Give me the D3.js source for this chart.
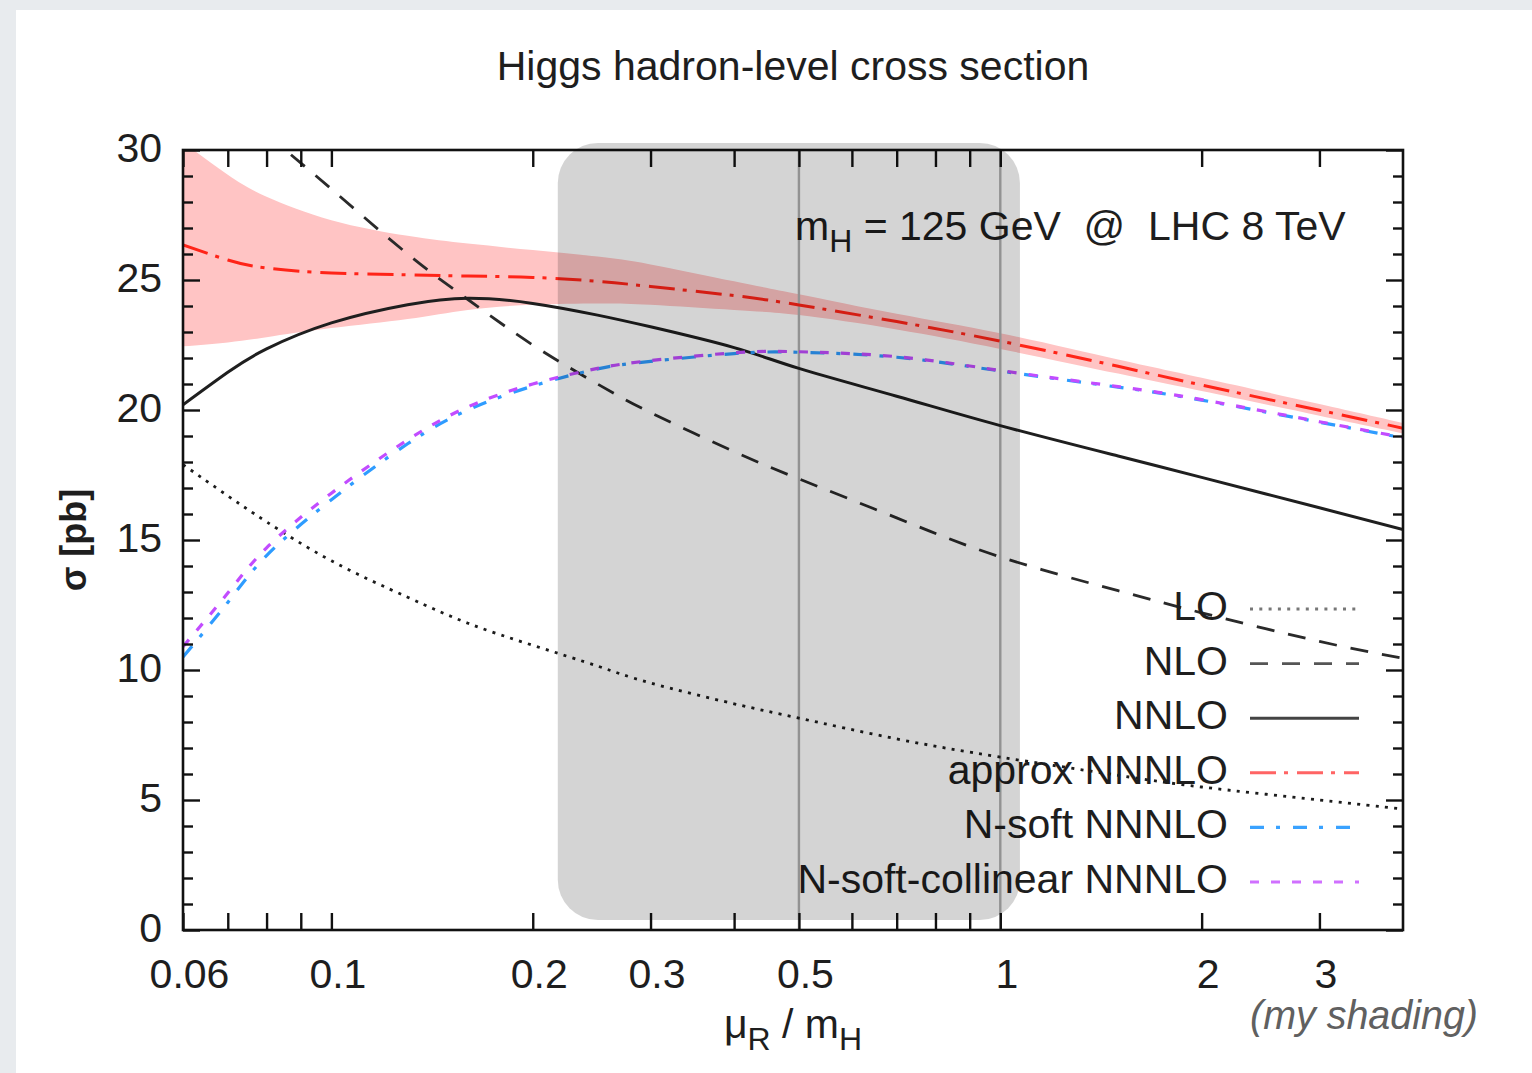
<!DOCTYPE html>
<html>
<head>
<meta charset="utf-8">
<script src="https://cdn.jsdelivr.net/npm/d3@7"></script>
<style>
  html, body { margin: 0; padding: 0; background: #e8ebee; }
  svg { display: block; }
  text { font-family: "Liberation Sans", Arial, Helvetica, sans-serif; }
</style>
</head>
<body>
<svg id="chart" width="1532" height="1073"></svg>
<script>
// ---- data ----------------------------------------------------------------
// renormalisation scale mu_R / m_H at which the cross sections are sampled
const muR = [0.06, 0.07, 0.08, 0.1, 0.13, 0.16, 0.2, 0.25, 0.3, 0.4, 0.5, 0.7, 1, 1.5, 2, 3, 4];

// sigma [pb] for each perturbative order
const sigmaLO    = [17.9, 16.7, 15.7, 14.2, 12.8, 11.8, 10.95, 10.15, 9.5, 8.7, 8.15, 7.35, 6.65, 5.95, 5.5, 5.0, 4.65];
const sigmaNLO   = [null, null, 30.6, 28.5, 26.0, 24.25, 22.5, 21.0, 19.9, 18.4, 17.35, 15.85, 14.35, 13.05, 12.2, 11.1, 10.45];
const sigmaNNLO  = [20.2, 21.45, 22.35, 23.35, 24.05, 24.3, 24.1, 23.65, 23.2, 22.4, 21.6, 20.53, 19.4, 18.23, 17.41, 16.24, 15.4];
const sigmaN3LO  = [26.35, 25.77, 25.46, 25.27, 25.2, 25.15, 25.1, 24.95, 24.75, 24.4, 24.04, 23.4, 22.65, 21.68, 20.96, 19.99, 19.3];
const bandHigh   = [30.3, 29.05, 28.2, 27.3, 26.7, 26.4, 26.15, 25.9, 25.6, 24.95, 24.45, 23.7, 22.95, 21.94, 21.24, 20.23, 19.5];
const bandLow    = [22.45, 22.6, 22.8, 23.15, 23.5, 23.85, 24.05, 24.1, 24.05, 23.85, 23.65, 23.1, 22.35, 21.4, 20.73, 19.78, 19.1];
const sigmaNsoft = [10.5, 12.6, 14.4, 16.55, 18.7, 20.0, 20.92, 21.58, 21.87, 22.17, 22.22, 22.03, 21.5, 20.88, 20.38, 19.53, 18.93];
const sigmaNsc   = [10.9, 12.96, 14.7, 16.8, 18.85, 20.12, 21.0, 21.6, 21.9, 22.2, 22.24, 22.05, 21.52, 20.9, 20.4, 19.55, 18.95];

// axis ticks
const xTicks = [0.06, 0.07, 0.08, 0.09, 0.1, 0.2, 0.3, 0.4, 0.5, 0.6, 0.7, 0.8, 0.9, 1, 2, 3];
const xTickLabels = {0.06: "0.06", 0.1: "0.1", 0.2: "0.2", 0.3: "0.3", 0.5: "0.5", 1: "1", 2: "2", 3: "3"};
const yMajor = [0, 5, 10, 15, 20, 25, 30];
const yMinor = d3.range(0, 31);

// reference scale choices and the highlighted scale window
const refLines = [0.5, 1];
const shadeX = [0.218, 1.07];

// legend entries, top to bottom
const legendLabels = ["LO", "NLO", "NNLO", "approx NNNLO", "N-soft NNNLO", "N-soft-collinear NNNLO"];

// ---- layout ----------------------------------------------------------------
const W = 1532, H = 1073;
const plot = {left: 183, right: 1403, top: 150, bottom: 930};
const FONT = 41;

const svg = d3.select("#chart");

// page backdrop and white card
svg.append("rect").attr("width", W).attr("height", H).attr("fill", "#e8ebee");
svg.append("rect").attr("x", 16).attr("y", 10).attr("width", W - 16).attr("height", H - 10).attr("fill", "#ffffff");

const x = d3.scaleLog().domain([0.06, 4]).range([plot.left, plot.right]);
const y = d3.scaleLinear().domain([0, 30]).range([plot.bottom, plot.top]);

svg.append("clipPath").attr("id", "plotClip")
  .append("rect")
  .attr("x", plot.left).attr("y", plot.top)
  .attr("width", plot.right - plot.left).attr("height", plot.bottom - plot.top);

const layer = svg.append("g").attr("clip-path", "url(#plotClip)");

// scale-uncertainty band of the approximate NNNLO result
const bandData = muR.map((m, i) => ({m, lo: bandLow[i], hi: bandHigh[i]}));
layer.append("path")
  .datum(bandData)
  .attr("fill", "#ffc4c4")
  .attr("d", d3.area()
    .x(d => x(d.m)).y0(d => y(d.lo)).y1(d => y(d.hi))
    .curve(d3.curveNatural));

// reference scale lines
layer.selectAll("line.ref")
  .data(refLines)
  .join("line")
  .attr("class", "ref")
  .attr("x1", d => x(d)).attr("x2", d => x(d))
  .attr("y1", plot.top).attr("y2", plot.bottom)
  .attr("stroke", "#b0b0b0").attr("stroke-width", 2.4);

const series = [
  {name: "LO",   values: sigmaLO,    color: "#1c1c1c", width: 2.8, dash: "3,6.3",         legendColor: "#777"},
  {name: "NLO",  values: sigmaNLO,   color: "#2a2a2a", width: 2.8, dash: "18,14",         legendColor: "#555"},
  {name: "NNLO", values: sigmaNNLO,  color: "#1f1f1f", width: 3,   dash: null,            legendColor: "#444"},
  {name: "approx NNNLO", values: sigmaN3LO, color: "#ff2418", width: 3, dash: "26,8,4,9", legendColor: "#ff6464"},
  {name: "N-soft NNNLO", values: sigmaNsoft, color: "#2e9cff", width: 3.2, dash: "14,12,4,13", legendColor: "#3aa2ff"},
  {name: "N-soft-collinear NNNLO", values: sigmaNsc, color: "#c24cff", width: 3.2, dash: "9,12", legendColor: "#d070ff"}
];

const line = d3.line()
  .defined(d => d.v !== null)
  .x(d => x(d.m)).y(d => y(d.v))
  .curve(d3.curveNatural);

series.forEach(s => {
  layer.append("path")
    .datum(muR.map((m, i) => ({m, v: s.values[i]})))
    .attr("fill", "none")
    .attr("stroke", s.color)
    .attr("stroke-width", s.width)
    .attr("stroke-dasharray", s.dash)
    .attr("d", line);
});

// ---- axes ----------------------------------------------------------------
const tickStyle = g => {
  g.select(".domain").remove();
  g.selectAll(".tick line").attr("stroke", "#111").attr("stroke-width", 2.4);
  g.selectAll("text").attr("fill", "#1e1e1e").attr("font-size", FONT)
    .attr("font-family", "'Liberation Sans', Arial, sans-serif");
};

svg.append("g")
  .attr("transform", `translate(0,${plot.bottom})`)
  .call(d3.axisBottom(x).tickValues(xTicks).tickSizeInner(-17).tickSizeOuter(0).tickPadding(29)
    .tickFormat(d => xTickLabels[d] || ""))
  .call(tickStyle)
  .call(g => g.selectAll("text").attr("dx", 6));

svg.append("g")
  .attr("transform", `translate(0,${plot.top})`)
  .call(d3.axisTop(x).tickValues(xTicks).tickSizeInner(-17).tickSizeOuter(0).tickFormat(() => ""))
  .call(tickStyle);

svg.append("g")
  .attr("transform", `translate(${plot.left},0)`)
  .call(d3.axisLeft(y).tickValues(yMinor.filter(v => v % 5)).tickSizeInner(-10).tickSizeOuter(0).tickFormat(() => ""))
  .call(tickStyle);
svg.append("g")
  .attr("transform", `translate(${plot.left},0)`)
  .call(d3.axisLeft(y).tickValues(yMajor).tickSizeInner(-17).tickSizeOuter(0).tickPadding(21)
    .tickFormat(d3.format("d")))
  .call(tickStyle)
  .call(g => g.selectAll("text").attr("dy", "0.28em"));

svg.append("g")
  .attr("transform", `translate(${plot.right},0)`)
  .call(d3.axisRight(y).tickValues(yMinor.filter(v => v % 5)).tickSizeInner(-10).tickSizeOuter(0).tickFormat(() => ""))
  .call(tickStyle);
svg.append("g")
  .attr("transform", `translate(${plot.right},0)`)
  .call(d3.axisRight(y).tickValues(yMajor).tickSizeInner(-17).tickSizeOuter(0).tickFormat(() => ""))
  .call(tickStyle);

// frame
svg.append("rect")
  .attr("x", plot.left).attr("y", plot.top)
  .attr("width", plot.right - plot.left).attr("height", plot.bottom - plot.top)
  .attr("fill", "none").attr("stroke", "#111").attr("stroke-width", 2.6);

// ---- titles and labels ----------------------------------------------------
const cx = (plot.left + plot.right) / 2;

svg.append("text")
  .attr("x", cx).attr("y", 80)
  .attr("text-anchor", "middle").attr("font-size", FONT).attr("fill", "#1e1e1e")
  .text("Higgs hadron-level cross section");

svg.append("text")
  .attr("transform", `translate(86,${(plot.top + plot.bottom) / 2}) rotate(-90)`)
  .attr("text-anchor", "middle").attr("font-size", 36).attr("font-weight", "bold").attr("fill", "#1e1e1e")
  .text("σ [pb]");

const xl = svg.append("text")
  .attr("x", cx).attr("y", 1038)
  .attr("text-anchor", "middle").attr("font-size", FONT).attr("fill", "#1e1e1e");
xl.append("tspan").text("μ");
xl.append("tspan").attr("font-size", 32).attr("dy", 12).text("R");
xl.append("tspan").attr("dy", -12).text(" / m");
xl.append("tspan").attr("font-size", 32).attr("dy", 12).text("H");

const note = svg.append("text")
  .attr("x", 795).attr("y", 240)
  .attr("font-size", FONT).attr("fill", "#1e1e1e")
  .attr("xml:space", "preserve");
note.append("tspan").text("m");
note.append("tspan").attr("font-size", 32).attr("dy", 12).text("H");
note.append("tspan").attr("dy", -12).text(" = 125 GeV  @  LHC 8 TeV");

// ---- legend ----------------------------------------------------------------
const legend = svg.append("g");
const legendTextX = 1228, legendY0 = 620, legendStep = 54.6;
series.forEach((s, i) => {
  const by = legendY0 + i * legendStep;
  legend.append("text")
    .attr("x", legendTextX).attr("y", by)
    .attr("text-anchor", "end").attr("font-size", FONT).attr("fill", "#1e1e1e")
    .text(legendLabels[i]);
  legend.append("line")
    .attr("x1", 1250).attr("x2", 1359)
    .attr("y1", by - 11).attr("y2", by - 11)
    .attr("stroke", s.legendColor).attr("stroke-width", s.width)
    .attr("stroke-dasharray", s.dash);
});

// ---- highlighted scale window ------------------------------------------------
svg.append("rect")
  .attr("x", x(shadeX[0])).attr("y", y(30) - 7)
  .attr("width", x(shadeX[1]) - x(shadeX[0]))
  .attr("height", (y(0) - 10) - (y(30) - 7))
  .attr("rx", 40).attr("ry", 40)
  .attr("fill", "#000").attr("fill-opacity", 0.17);

svg.append("text")
  .attr("x", 1250).attr("y", 1029)
  .attr("font-family", "Lato, 'Open Sans', sans-serif")
  .attr("font-style", "italic").attr("font-weight", 300)
  .attr("font-size", 40).attr("fill", "#606060")
  .attr("textLength", 228).attr("lengthAdjust", "spacingAndGlyphs")
  .text("(my shading)");
</script>
</body>
</html>
